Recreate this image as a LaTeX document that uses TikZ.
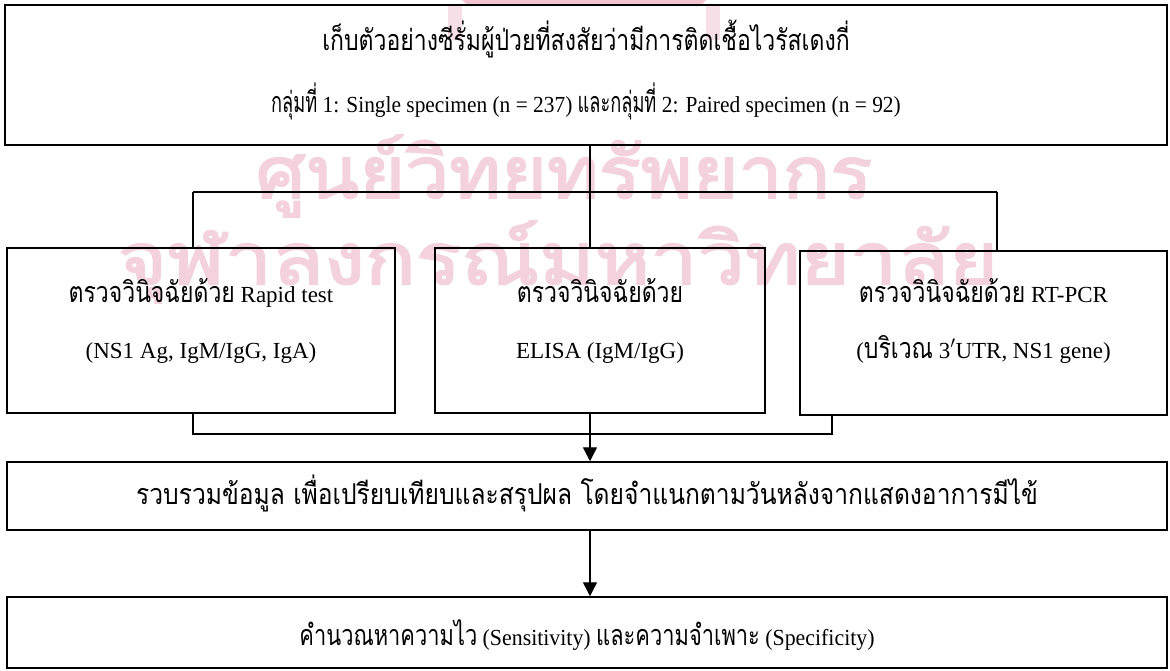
\documentclass[tikz,border=0pt]{standalone}
\usepackage{fontspec}
\setmainfont{Liberation Serif}
\newfontfamily\thaifont[Script=Thai]{Loma}
\newfontfamily\thaiwm[Script=Thai,FakeBold=2.5]{Loma}
\newcommand{\thtxt}[1]{\scalebox{1}[1.25]{\thaifont #1}}
\newcommand{\thnarrow}[1]{\scalebox{0.85}[1.25]{\thaifont #1}}
\usetikzlibrary{arrows.meta}
\definecolor{wmpink}{RGB}{243,210,222}
\definecolor{wmred}{RGB}{232,150,170}
\tikzset{
  box/.style={draw=black, line width=1.5pt, inner sep=0pt},
  txt/.style={inner sep=0pt, anchor=base, font=\fontsize{23}{23}\selectfont},
  conn/.style={draw=black, line width=1.4pt},
  arr/.style={conn, -{Triangle[length=14pt,width=14pt]}},
  wm/.style={text=wmpink, inner sep=0pt, font=\thaiwm\fontsize{72}{72}\selectfont},
}
\begin{document}
\begin{tikzpicture}[x=1pt,y=-1pt]
\useasboundingbox (0,0) rectangle (1170,671);
% watermark (faint background)
\fill[wmred,opacity=0.55] (462,0) -- (706,0) -- (700,6) -- (468,6) -- cycle;
\fill[wmpink,opacity=0.7] (448,6) rectangle (462,40);
\fill[wmpink,opacity=0.7] (706,6) rectangle (720,40);
\node[wm] (wm1) at (564,176) {\scalebox{1.09}[1]{ศูนย์วิทยทรัพยากร}};
\node[wm] (wm2) at (558,262) {\scalebox{1.17}[1]{จุฬาลงกรณ์มหาวิทยาลัย}};
% boxes
\node[box, line width=1.8pt, minimum width=1162pt, minimum height=140pt] (top) at (586,75) {};
\node[box, minimum width=388pt, minimum height=165pt] (left) at (201,330.5) {};
\node[box, minimum width=330pt, minimum height=165pt] (mid) at (600,330.5) {};
\node[box, minimum width=367pt, minimum height=164pt] (right) at (983.5,333) {};
\node[box, minimum width=1160pt, minimum height=68pt] (collect) at (587,496) {};
\node[box, minimum width=1160pt, minimum height=71pt] (calc) at (587,632.5) {};
% texts
\node[txt] (t1) at (586,51) {\thtxt{เก็บตัวอย่างซีรั่มผู้ป่วยที่สงสัยว่ามีการติดเชื้อไวรัสเดงกี่}};
\node[txt] (t2) at (586,113) {\scalebox{0.93}[1]{\thnarrow{กลุ่มที่} 1: Single specimen (n = 237) \thnarrow{และกลุ่มที่} 2: Paired specimen (n = 92)}};
\node[txt] (l1) at (201,302) {\thtxt{ตรวจวินิจฉัยด้วย} Rapid test};
\node[txt] (l2) at (201,358) {(NS1 Ag, IgM/IgG, IgA)};
\node[txt] (m1) at (600,302) {\thtxt{ตรวจวินิจฉัยด้วย}};
\node[txt] (m2) at (600,358) {ELISA (IgM/IgG)};
\node[txt] (r1) at (983.5,302) {\thtxt{ตรวจวินิจฉัยด้วย} RT-PCR};
\node[txt] (r2) at (983.5,358) {(\thtxt{บริเวณ} 3$'$UTR, NS1 gene)};
\node[txt] (c1) at (587,504) {\scalebox{1.07}[1]{\thtxt{รวบรวมข้อมูล เพื่อเปรียบเทียบและสรุปผล โดยจำแนกตามวันหลังจากแสดงอาการมีไข้}}};
\node[txt] (s1) at (587,645) {\scalebox{0.95}[1]{\thtxt{คำนวณหาความไว} (Sensitivity) \thtxt{และความจำเพาะ} (Specificity)}};
% connectors
\coordinate (busL) at (193,192);
\coordinate (busC) at (590,192);
\coordinate (busR) at (997,192);
\coordinate (lowL) at (193,434);
\coordinate (lowR) at (832,434);
\draw[conn] (busL) -- (busR);
\draw[conn] (top.south -| busC) -- (mid.north -| busC);
\draw[conn] (busL) -- (left.north -| busL);
\draw[conn] (busR) -- (right.north -| busR);
\draw[conn] (left.south -| lowL) -- (lowL) -- (lowR) -- (right.south -| lowR);
\draw[arr] (mid.south -| busC) -- (collect.north -| busC);
\draw[arr] (collect.south -| busC) -- (calc.north -| busC);
\end{tikzpicture}
\end{document}
